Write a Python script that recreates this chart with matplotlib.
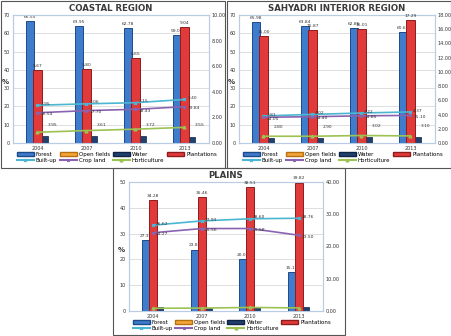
import matplotlib.pyplot as plt
from matplotlib.patches import Rectangle, Patch
from matplotlib.lines import Line2D
import numpy as np

years = ["2004", "2007", "2010", "2013"]

# Coastal region
coastal_forest = [66.55, 63.95, 62.78, 59.06]
coastal_open = [0.10, 0.10, 0.10, 0.10]
coastal_water = [3.95, 3.61, 3.72, 3.55]
coastal_plant = [5.67, 5.80, 6.65, 9.04]
coastal_built = [2.95, 3.06, 3.15, 3.40]
coastal_crop = [16.54, 17.70, 18.43, 19.84]
coastal_horti = [0.84, 0.97, 1.08, 1.22]

# Sahyadri interior region
sahyadri_forest = [65.98, 63.84, 62.86, 60.61]
sahyadri_open = [0.10, 0.10, 0.10, 0.10]
sahyadri_water = [2.80, 2.90, 3.02, 3.10]
sahyadri_plant = [15.00, 15.87, 16.01, 17.29]
sahyadri_built = [3.81, 4.02, 4.22, 4.37]
sahyadri_crop = [14.05, 14.40, 14.85, 15.10]
sahyadri_horti = [0.95, 0.95, 1.05, 1.00]

# Plains
plains_forest = [27.35, 23.82, 20.08, 15.17]
plains_open = [2.90, 3.80, 3.40, 6.80]
plains_water = [1.53, 1.31, 1.36, 1.52]
plains_plant = [34.28, 35.46, 38.51, 39.82]
plains_built = [26.62, 27.93, 28.60, 28.76]
plains_crop = [24.27, 25.56, 25.58, 23.50]
plains_horti = [0.85, 0.90, 1.10, 0.95]

C_FOREST, C_FOREST_E = "#3f7ccc", "#1d4a8a"
C_OPEN, C_OPEN_E = "#f4a63a", "#b86f10"
C_WATER, C_WATER_E = "#20406f", "#0f2342"
C_PLANT, C_PLANT_E = "#e03a3a", "#8f1c1c"
C_BUILT = "#4bb6d2"
C_CROP = "#8a63b0"
C_HORTI = "#9bc253"

W, H = 452, 336
fig = plt.figure(figsize=(W / 100, H / 100), dpi=100)


def px_box(x0, y0, x1, y1):
    return [x0 / W, 1 - y1 / H, (x1 - x0) / W, (y1 - y0) / H]


def panel(box, title, forest, openf, water, plant, built, crop, horti,
          lmax, rmax, rstep, crop_right, water_labels):
    ax = fig.add_axes(box)
    ax2 = ax.twinx()
    x = np.arange(len(years))
    w = 0.15

    ax.bar(x, openf, w, color=C_OPEN, edgecolor=C_OPEN_E, linewidth=0.5, zorder=2)
    ax.bar(x - w, forest, w, color=C_FOREST, edgecolor=C_FOREST_E, linewidth=0.7, zorder=3)
    ax.bar(x + w, water, w * 0.8, color=C_WATER, edgecolor=C_WATER_E, linewidth=0.5, zorder=3)
    ax2.bar(x, plant, w * 1.1, color=C_PLANT, edgecolor=C_PLANT_E, linewidth=0.7, zorder=2)

    crop_tr = ax2.transData if crop_right else ax.transData
    ax2.plot(x, built, color=C_BUILT, lw=1.2, marker="x", ms=2, zorder=4)
    ax2.plot(x, crop, color=C_CROP, lw=1.2, marker="*", ms=2, zorder=4, transform=crop_tr)
    ax2.plot(x, horti, color=C_HORTI, lw=1.2, marker="^", ms=2, zorder=4)

    lab = dict(fontsize=3.2, color="#333333", textcoords="offset points", zorder=6)
    for i in range(len(years)):
        ax.annotate(f"{forest[i]:.2f}", (x[i] - w, forest[i]), xytext=(0, 1.5),
                    ha="center", va="bottom", annotation_clip=False, **lab)
        ax2.annotate(f"{plant[i]:.2f}", (x[i], plant[i]), xytext=(0, 1.5),
                     ha="center", va="bottom", annotation_clip=False, **lab)
        ax2.annotate(f"{built[i]:.2f}", (x[i], built[i]), xytext=(2, 1),
                     ha="left", va="center", **lab)
        ax2.annotate(f"{crop[i]:.2f}", (x[i], crop[i]), xycoords=crop_tr,
                     xytext=(2, -1), ha="left", va="center", **lab)
        if water_labels:
            ax2.annotate(f"{water[i]:.2f}", (x[i] + w, water[i]), xycoords=ax.transData,
                         xytext=(2, 8), ha="left", va="center", **lab)

    ax.set_xlim(-0.5, len(years) - 0.5)
    ax.set_ylim(0, lmax)
    ax2.set_ylim(0, rmax)
    ax.set_yticks(np.arange(0, lmax + 1, 10))
    rticks = np.arange(0, rmax + 0.01, rstep)
    ax2.set_yticks(rticks)
    ax2.set_yticklabels([f"{v:.2f}" for v in rticks])
    ax.set_xticks(x)
    ax.set_xticklabels(years)
    ax.yaxis.grid(True, color="#d9d9d9", lw=0.6)
    ax.set_axisbelow(True)
    for a in (ax, ax2):
        a.tick_params(labelsize=3.5, length=0, pad=2, colors="#333333")
        for s in a.spines.values():
            s.set_color("#b8cce4")
            s.set_linewidth(0.8)
    ax.text(-0.02, 0.475, "%", transform=ax.transAxes, fontsize=5,
            fontweight="bold", ha="right", va="center", color="#333333")
    ax.set_title(title, fontsize=6.2, fontweight="bold", color="#3a3a3a", pad=3)

    handles = [
        Patch(facecolor=C_FOREST, edgecolor=C_FOREST_E, label="Forest"),
        Line2D([], [], color=C_BUILT, marker="x", ms=2, label="Built-up"),
        Patch(facecolor=C_OPEN, edgecolor=C_OPEN_E, label="Open fields"),
        Line2D([], [], color=C_CROP, marker="*", ms=2, label="Crop land"),
        Patch(facecolor=C_WATER, edgecolor=C_WATER_E, label="Water"),
        Line2D([], [], color=C_HORTI, marker="^", ms=2, label="Horticulture"),
        Patch(facecolor=C_PLANT, edgecolor=C_PLANT_E, label="Plantations"),
    ]
    ax.legend(handles=handles, ncol=4, loc="upper left", mode="expand",
              bbox_to_anchor=(0.02, -0.16, 1.02, 0.09),
              fontsize=4.0, frameon=False, handlelength=3.0, handleheight=0.7,
              columnspacing=0.6, labelspacing=0.1, borderpad=0, handletextpad=0.4,
              borderaxespad=0)


panel(px_box(13, 15, 209, 143), "COASTAL REGION", coastal_forest, coastal_open,
      coastal_water, coastal_plant, coastal_built, coastal_crop, coastal_horti,
      70, 10, 2, False, True)
panel(px_box(239, 15, 435, 143), "SAHYADRI INTERIOR REGION", sahyadri_forest,
      sahyadri_open, sahyadri_water, sahyadri_plant, sahyadri_built, sahyadri_crop,
      sahyadri_horti, 70, 18, 2, False, True)
panel(px_box(129, 182, 323, 311), "PLAINS", plains_forest, plains_open, plains_water,
      plains_plant, plains_built, plains_crop, plains_horti, 50, 40, 10, True, False)

# frames around each chart
for x0, y0, x1, y1 in [(1, 1, 225, 168), (227, 1, 451, 168), (113, 168, 345, 335)]:
    fig.add_artist(Rectangle((x0 / W, 1 - y1 / H), (x1 - x0) / W, (y1 - y0) / H,
                             transform=fig.transFigure, fill=False,
                             edgecolor="#555555", lw=0.8))

fig.savefig("out.png", dpi=100)
